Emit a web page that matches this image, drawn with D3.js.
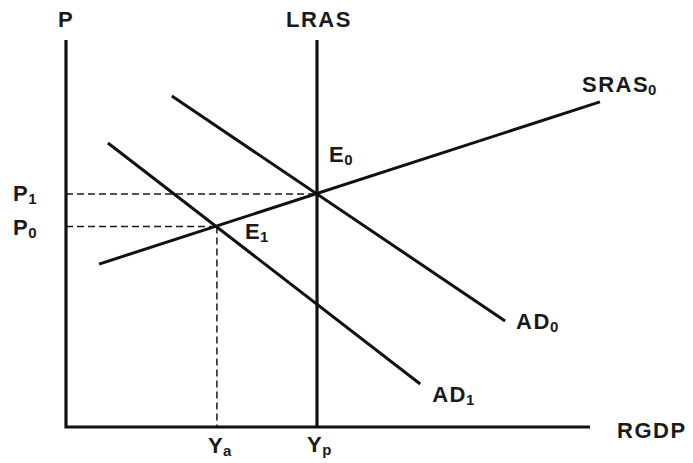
<!DOCTYPE html>
<html>
<head>
<meta charset="utf-8">
<script src="https://cdn.jsdelivr.net/npm/d3@7"></script>
<style>
  body { margin: 0; background: #fff; }
  text { font-family: "Liberation Sans", Arial, sans-serif; font-weight: bold; fill: #1a1a1a; }
</style>
</head>
<body>
<svg id="chart" width="693" height="463"></svg>
<script>
// 价格水平与产出 (arbitrary units, 0-100 on each axis)
const P0 = 51.8;
const P1 = 60.2;
const Ya = 28.8;
const Yp = 47.9;

// curves: [x, y] endpoints
const sras0 = [[6.3, 42.1], [101.9, 84.0]];
const ad0 = [[20.2, 85.5], [83.8, 27.4]];
const ad1 = [[8.0, 73.4], [67.6, 11.1]];

const yTop = 100;
const xRight = 100;

const svg = d3.select("#chart");
const x = d3.scaleLinear().domain([0, 100]).range([66, 590]);
const y = d3.scaleLinear().domain([0, 100]).range([427, 40]);

const line = d3.line().x((d) => x(d[0])).y((d) => y(d[1]));

// 虚线
const dashes = [
  [[0, P1], [Yp, P1]],
  [[0, P0], [Ya, P0]],
  [[Ya, P0], [Ya, 0]],
];
svg
  .selectAll(".dash")
  .data(dashes)
  .join("path")
  .attr("class", "dash")
  .attr("d", line)
  .attr("fill", "none")
  .attr("stroke", "#1a1a1a")
  .attr("stroke-width", 1.5)
  .attr("stroke-dasharray", "7,4");

// 坐标轴 + LRAS
const axes = [
  [[0, yTop], [0, 0], [xRight, 0]],
  [[Yp, yTop], [Yp, 0]],
];
svg
  .selectAll(".axis")
  .data(axes)
  .join("path")
  .attr("class", "axis")
  .attr("d", line)
  .attr("fill", "none")
  .attr("stroke", "#111")
  .attr("stroke-width", 3.2);

// 曲线
svg
  .selectAll(".curve")
  .data([sras0, ad0, ad1])
  .join("path")
  .attr("class", "curve")
  .attr("d", line)
  .attr("fill", "none")
  .attr("stroke", "#111")
  .attr("stroke-width", 3);

// 标签
const labels = [
  { t: "P", s: "", x: x(0), y: 27, anchor: "middle" },
  { t: "LRAS", s: "", x: x(Yp) + 2, y: 27, anchor: "middle" },
  { t: "SRAS", s: "0", x: x(sras0[1][0]) - 18, y: 92, anchor: "start" },
  { t: "E", s: "0", x: x(Yp) + 12, y: y(P1) - 32, anchor: "start" },
  { t: "E", s: "1", x: x(Ya) + 28, y: y(P0) + 12, anchor: "start" },
  { t: "P", s: "1", x: 13, y: y(P1) + 7, anchor: "start" },
  { t: "P", s: "0", x: 13, y: y(P0) + 8, anchor: "start" },
  { t: "AD", s: "0", x: x(ad0[1][0]) + 11, y: y(ad0[1][1]) + 8, anchor: "start" },
  { t: "AD", s: "1", x: x(ad1[1][0]) + 12, y: y(ad1[1][1]) + 18, anchor: "start" },
  { t: "RGDP", s: "", x: x(xRight) + 27, y: 438, anchor: "start" },
  { t: "Y", s: "a", x: x(Ya) - 9, y: 453, anchor: "start" },
  { t: "Y", s: "p", x: x(Yp) - 10, y: 452, anchor: "start" },
];

const txt = svg
  .selectAll(".label")
  .data(labels)
  .join("text")
  .attr("class", "label")
  .attr("x", (d) => d.x)
  .attr("y", (d) => d.y)
  .attr("text-anchor", (d) => d.anchor)
  .attr("font-size", 22)
  .attr("letter-spacing", 1.5);

txt.append("tspan").text((d) => d.t);
txt
  .filter((d) => d.s)
  .append("tspan")
  .attr("font-size", 15)
  .attr("dx", -1)
  .attr("dy", 3)
  .attr("letter-spacing", 0)
  .text((d) => d.s);
</script>
</body>
</html>
